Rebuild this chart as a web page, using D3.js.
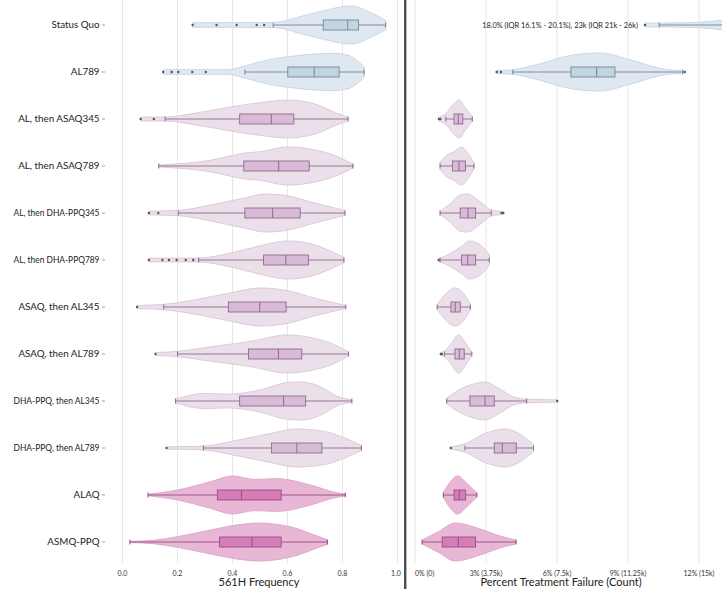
<!DOCTYPE html>
<html><head><meta charset="utf-8">
<script src="https://cdn.jsdelivr.net/npm/d3@7"></script>
<style>body{margin:0;background:#fff}svg{display:block;font-family:Lato,"Noto Sans",sans-serif}</style>
</head><body><svg id="c" width="722" height="589"></svg>
<script>
// ---------------- DATA ----------------
const categories = ["Status Quo","AL789","AL, then ASAQ345","AL, then ASAQ789","AL, then DHA-PPQ345","AL, then DHA-PPQ789","ASAQ, then AL345","ASAQ, then AL789","DHA-PPQ, then AL345","DHA-PPQ, then AL789","ALAQ","ASMQ-PPQ"];
const strategyGroup = ["baseline","baseline","sequential","sequential","sequential","sequential","sequential","sequential","sequential","sequential","mft","mft"];

// 561H frequency (left panel)
const freqLow  = [0.548,0.445,0.155,0.132,0.203,0.277,0.150,0.200,0.193,0.294,0.093,0.027];
const freqQ1   = [0.730,0.601,0.426,0.441,0.445,0.513,0.385,0.458,0.426,0.542,0.345,0.353];
const freqMed  = [0.819,0.697,0.541,0.568,0.546,0.594,0.499,0.567,0.586,0.634,0.433,0.471];
const freqQ3   = [0.858,0.788,0.623,0.679,0.646,0.676,0.595,0.652,0.666,0.725,0.577,0.577];
const freqHigh = [0.957,0.879,0.820,0.838,0.809,0.805,0.812,0.822,0.834,0.869,0.810,0.745];
const freqOutliers = [
  [0.255,0.342,0.415,0.488,0.515],
  [0.148,0.179,0.203,0.254,0.303],
  [0.066,0.114],
  [],
  [0.096,0.130],
  [0.096,0.145,0.169,0.197,0.230,0.257],
  [0.053],
  [0.120],
  [],
  [0.160],
  [],
  []
];
// relative density profiles [value, density]
const freqDensity = [
  [[0.255,0.12],[0.55,0.13],[0.645,0.44],[0.73,0.75],[0.83,1.0],[0.91,0.6],[0.957,0.25]],
  [[0.148,0.12],[0.38,0.12],[0.445,0.32],[0.525,0.62],[0.6,0.8],[0.77,0.98],[0.82,0.88],[0.879,0.27]],
  [[0.066,0.1],[0.155,0.1],[0.25,0.27],[0.4,0.65],[0.5,0.86],[0.6,1.0],[0.7,0.79],[0.78,0.3],[0.82,0.1]],
  [[0.132,0.05],[0.32,0.3],[0.44,0.67],[0.5,0.75],[0.6,1.0],[0.68,0.9],[0.78,0.5],[0.838,0.1]],
  [[0.096,0.1],[0.203,0.14],[0.32,0.42],[0.44,0.78],[0.52,1.0],[0.6,0.9],[0.7,0.52],[0.81,0.12]],
  [[0.096,0.1],[0.277,0.1],[0.36,0.26],[0.44,0.53],[0.513,0.79],[0.6,1.0],[0.7,0.79],[0.77,0.38],[0.805,0.15]],
  [[0.053,0.08],[0.15,0.14],[0.26,0.37],[0.385,0.72],[0.5,1.0],[0.6,0.86],[0.7,0.46],[0.812,0.08]],
  [[0.12,0.08],[0.2,0.14],[0.32,0.38],[0.46,0.65],[0.6,1.0],[0.7,0.82],[0.77,0.5],[0.822,0.1]],
  [[0.193,0.1],[0.3,0.4],[0.38,0.36],[0.5,0.58],[0.6,0.97],[0.65,1.0],[0.72,0.75],[0.78,0.25],[0.834,0.06]],
  [[0.16,0.06],[0.294,0.1],[0.42,0.42],[0.54,0.77],[0.63,1.0],[0.73,0.88],[0.81,0.52],[0.869,0.12]],
  [[0.093,0.04],[0.2,0.26],[0.32,0.7],[0.4,1.0],[0.48,0.82],[0.56,0.86],[0.69,0.5],[0.77,0.15],[0.81,0.05]],
  [[0.027,0.03],[0.12,0.1],[0.2,0.28],[0.32,0.63],[0.42,0.9],[0.5,1.0],[0.56,0.93],[0.64,0.68],[0.7,0.35],[0.745,0.12]]
];

// Percent treatment failure (right panel), in %
const tfLow  = [10.32,4.13,1.30,1.06,1.06,1.06,0.94,1.24,1.34,2.11,1.20,0.30];
const tfQ1   = [16.1,6.59,1.65,1.58,1.91,1.97,1.52,1.69,2.32,3.35,1.65,1.15];
const tfMed  = [18.0,7.68,1.83,1.86,2.24,2.23,1.70,1.87,2.96,3.69,1.87,1.83];
const tfQ3   = [20.1,8.45,2.02,2.13,2.56,2.56,1.91,2.08,3.35,4.28,2.14,2.56];
const tfHigh = [25.0,11.31,2.42,2.49,3.22,3.14,2.34,2.40,4.72,5.01,2.61,4.27];
const tfOutliers = [
  [9.72],[3.45,3.63,11.4],[1.01,1.07],[],[3.66,3.73],[1.0],[],[1.09,1.13],[6.01],[1.51],[],[]
];
const tfDensity = [
  [[9.72,0.1],[11.5,0.12],[13,0.25],[14.5,0.5],[16,0.85],[18,1.0],[20,0.85],[22,0.4],[25,0.1]],
  [[3.45,0.08],[4.13,0.12],[5.3,0.44],[6.6,0.88],[7.8,1.0],[9.2,0.6],[10.4,0.18],[11.4,0.06]],
  [[1.01,0.1],[1.31,0.3],[1.6,0.74],[1.86,1.0],[2.14,0.56],[2.42,0.12]],
  [[1.06,0.2],[1.35,0.58],[1.65,0.75],[1.95,1.0],[2.25,0.65],[2.49,0.15]],
  [[1.06,0.08],[1.5,0.5],[1.9,0.95],[2.2,1.0],[2.75,0.6],[3.22,0.16],[3.73,0.08]],
  [[1.0,0.06],[1.5,0.35],[1.97,0.72],[2.3,1.0],[2.75,0.8],[3.14,0.28]],
  [[0.94,0.12],[1.2,0.55],[1.7,1.0],[2.05,0.72],[2.34,0.15]],
  [[1.09,0.06],[1.24,0.15],[1.45,0.42],[1.85,1.0],[2.15,0.55],[2.4,0.1]],
  [[1.34,0.14],[1.85,0.58],[2.5,0.9],[2.95,1.0],[3.6,0.62],[4.2,0.2],[4.72,0.1],[6.01,0.06]],
  [[1.51,0.06],[2.11,0.22],[2.95,0.76],[3.8,1.0],[4.5,0.68],[5.01,0.18]],
  [[1.2,0.12],[1.45,0.62],[1.8,1.0],[2.2,0.6],[2.61,0.1]],
  [[0.3,0.1],[1.0,0.55],[1.7,1.0],[2.6,0.75],[3.5,0.35],[4.27,0.1]]
];
const statusQuoNote = "18.0% (IQR 16.1% - 20.1%), 23k (IQR 21k - 26k)";

const freqTicks = [0,0.2,0.4,0.6,0.8,1.0];
const freqTickLabels = ["0.0","0.2","0.4","0.6","0.8","1.0"];
const tfTicks = [0,3,6,9,12];
const tfTickLabels = ["0% (0)","3% (3.75k)","6% (7.5k)","9% (11.25k)","12% (15k)"];
const freqTitle = "561H Frequency";
const tfTitle = "Percent Treatment Failure (Count)";

// ---------------- STYLE ----------------
const palette = {
  baseline:   {vf:"#dfe8f0", vs:"#c6d5e1", bf:"#c3d5e3", bs:"#71879a"},
  sequential: {vf:"#ebdfea", vs:"#d9c6d7", bf:"#d9bad8", bs:"#8c6c8b"},
  mft:        {vf:"#e8b7d6", vs:"#dca3c8", bf:"#d67cb9", bs:"#9a4d82"}
};

const svg = d3.select("#c");
const y = d3.scaleBand().domain(categories).range([1.5, 565.5]);
const xL = d3.scaleLinear().domain([0,1]).range([122.5,397.5]);
const xR = d3.scaleLinear().domain([0,12]).range([415,699]);
const wS = d3.scaleLinear().domain([0,1]).range([0, y.bandwidth()*0.405]);
const boxH = 10, capH = 5;

// grid lines
svg.append("g").selectAll("line").data(freqTicks).join("line")
  .attr("x1",d=>xL(d)).attr("x2",d=>xL(d)).attr("y1",0).attr("y2",563)
  .attr("stroke","#e6e6e6").attr("stroke-width",1);
svg.append("g").selectAll("line").data(tfTicks).join("line")
  .attr("x1",d=>xR(d)).attr("x2",d=>xR(d)).attr("y1",0).attr("y2",563)
  .attr("stroke","#e6e6e6").attr("stroke-width",1);

function drawPanel(x, low, q1, med, q3, high, outs, dens) {
  const g = svg.append("g");
  categories.forEach((c,i)=>{
    const cy = y(c) + y.bandwidth()/2;
    const p = palette[strategyGroup[i]];
    const area = d3.area().curve(d3.curveMonotoneX)
      .x(d=>x(d[0])).y0(d=>cy - wS(d[1])).y1(d=>cy + wS(d[1]));
    g.append("path").attr("d", area(dens[i]))
      .attr("fill", p.vf).attr("stroke", p.vs).attr("stroke-width",0.9);
    g.append("line").attr("x1",x(low[i])).attr("x2",x(high[i])).attr("y1",cy).attr("y2",cy)
      .attr("stroke",p.bs).attr("stroke-width",0.9);
    [low[i],high[i]].forEach(v=>{
      g.append("line").attr("x1",x(v)).attr("x2",x(v)).attr("y1",cy-capH/2).attr("y2",cy+capH/2)
        .attr("stroke",p.bs).attr("stroke-width",1);
    });
    g.append("rect").attr("x",x(q1[i])).attr("width",x(q3[i])-x(q1[i]))
      .attr("y",cy-boxH/2).attr("height",boxH)
      .attr("fill",p.bf).attr("stroke",p.bs).attr("stroke-width",0.9);
    g.append("line").attr("x1",x(med[i])).attr("x2",x(med[i])).attr("y1",cy-boxH/2).attr("y2",cy+boxH/2)
      .attr("stroke",p.bs).attr("stroke-width",1);
    g.selectAll(null).data(outs[i]).join("circle")
      .attr("cx",d=>x(d)).attr("cy",cy).attr("r",1.2).attr("fill","#555");
  });
}
drawPanel(xL, freqLow, freqQ1, freqMed, freqQ3, freqHigh, freqOutliers, freqDensity);
drawPanel(xR, tfLow, tfQ1, tfMed, tfQ3, tfHigh, tfOutliers, tfDensity);

// status quo note
svg.append("text").attr("x", xR(tfOutliers[0][0]) - 7).attr("y", y(categories[0]) + y.bandwidth()/2 + 2.6)
  .attr("text-anchor","end").attr("font-size",7.4).attr("fill","#222").text(statusQuoNote);

// y axis labels
const ya = svg.append("g");
const maxLabelW = 86;
categories.forEach(c=>{
  const cy = y(c)+y.bandwidth()/2;
  ya.append("line").attr("x1",102).attr("x2",105).attr("y1",cy).attr("y2",cy).attr("stroke","#888").attr("stroke-width",0.8);
  const t = ya.append("text").attr("x",99.5).attr("y",cy+3.4).attr("text-anchor","end")
    .attr("font-size",9.8).attr("fill","#222").text(c);
  const w = t.node().getComputedTextLength();
  if (w > maxLabelW) t.attr("textLength", maxLabelW).attr("lengthAdjust","spacingAndGlyphs");
});

// x tick labels
svg.append("g").selectAll("text").data(freqTicks).join("text")
  .attr("x",(d,i)=>xL(d) + (i===freqTicks.length-1? -1.5:0)).attr("y",575.5).attr("text-anchor","middle")
  .attr("font-size",7).attr("fill","#333").text((d,i)=>freqTickLabels[i]);
svg.append("g").selectAll("text").data(tfTicks).join("text")
  .attr("x",d=>xR(d)).attr("y",575.5).attr("text-anchor",(d,i)=>i===0?"start":"middle")
  .attr("font-size",7).attr("fill","#333").text((d,i)=>tfTickLabels[i]);

svg.append("text").attr("x",259).attr("y",586).attr("text-anchor","middle")
  .attr("font-size",11).attr("fill","#222").text(freqTitle);
svg.append("text").attr("x",561).attr("y",586).attr("text-anchor","middle")
  .attr("font-size",11).attr("fill","#222").text(tfTitle);

// separator
svg.append("line").attr("x1",405.2).attr("x2",405.2).attr("y1",0).attr("y2",589)
  .attr("stroke","#4d4d4d").attr("stroke-width",2.4);
</script></body></html>
